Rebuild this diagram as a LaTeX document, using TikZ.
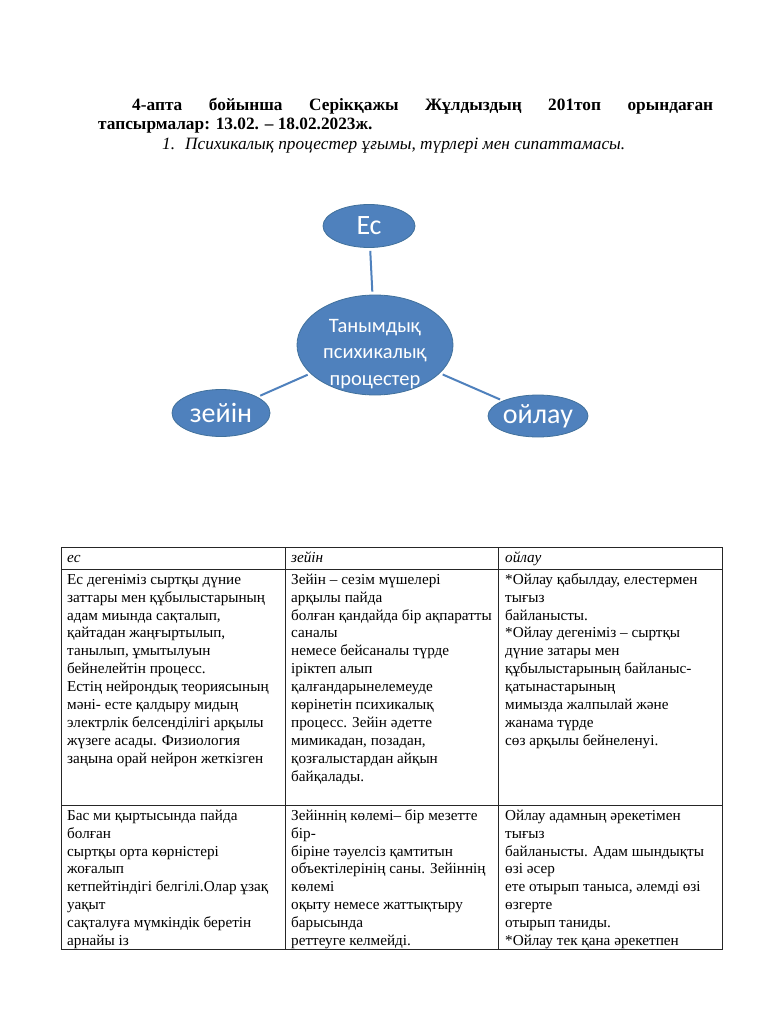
\documentclass[tikz,border=0pt]{standalone}
\usepackage{fontspec}
\setmainfont{Liberation Serif}
\newfontfamily\smartfont{Carlito}
\usetikzlibrary{shapes.geometric,positioning}
\definecolor{Smart}{HTML}{4F81BD}
\definecolor{SmartEdge}{HTML}{41719C}
\definecolor{Grid}{HTML}{262626}
\tikzset{
  bubble/.style={ellipse,fill=Smart,draw=SmartEdge,line width=0.8pt,text=white,inner sep=0pt,
    font=\smartfont\fontsize{28}{32}\selectfont},
  link/.style={Smart,line width=2pt,shorten <=3pt,shorten >=3pt},
  headline/.style={anchor=base west,inner sep=0pt,font=\fontsize{17.3}{20}\selectfont},
  cell/.style={anchor=north west,align=left,inner sep=0pt,font=\fontsize{15.2}{17.9}\selectfont},
  headcell/.style={cell,font=\fontsize{15.2}{17.9}\selectfont\itshape}
}
\begin{document}
\begin{tikzpicture}[x=1pt,y=-1pt]
        \useasboundingbox[fill=white] (0,0) rectangle (768,1024);
        % heading
        \node[headline,font=\fontsize{17.3}{20}\selectfont\bfseries] (title1) at (132,111)
          {\makebox[581pt][s]{4-апта бойынша Серікқажы Жұлдыздың 201топ орындаған}};
        \node[headline,font=\fontsize{17.3}{20}\selectfont\bfseries] (title2) at (98,130)
          {тапсырмалар: 13.02. – 18.02.2023ж.};
        \node[headline,font=\fontsize{17.3}{20}\selectfont\itshape] (num) at (162,150) {1.};
        \node[headline,font=\fontsize{17.3}{20}\selectfont\itshape] (subtitle) at (185,150)
          {Психикалық процестер ұғымы, түрлері мен сипаттамасы.};
        % smartart
        \node[bubble,minimum width=156pt,minimum height=100pt] (tan) at (375,345) {};
        \node[text=white,align=center,inner sep=0pt,font=\smartfont\fontsize{20.5}{26.7}\selectfont] (tantext) at (375,354)
          {Танымдық\\психикалық\\процестер};
        \node[bubble,minimum width=92pt,minimum height=43pt] (es) at (369,226) {Ес};
        \node[bubble,minimum width=98pt,minimum height=47pt] (zeyin) at (221,413) {зейін};
        \node[bubble,minimum width=100pt,minimum height=42pt] (oylau) at (538,416) {ойлау};
        \foreach \n in {es,zeyin,oylau}
          \draw[link] (tan) -- (\n);
        % table
        \draw[Grid,line width=0.8pt] (61,547) rectangle (722,949);
        \draw[Grid,line width=0.8pt] (61,569) -- (722,569);
        \draw[Grid,line width=0.8pt] (61,805) -- (722,805);
        \foreach \x in {285,498}
          \draw[Grid,line width=0.8pt] (\x,547) -- (\x,949);
        \node[headcell] (hes) at (67,549.5) {\strut ес};
        \node[headcell] (hzeyin) at (291,549.5) {\strut зейін};
        \node[headcell] (hoylau) at (505,549.5) {\strut ойлау};
        \node[cell] (es1) at (67,571.5) {\strut Ес дегеніміз сыртқы дүние\\заттары мен құбылыстарының\\адам миында сақталып,\\қайтадан жаңғыртылып,\\танылып, ұмытылуын\\бейнелейтін процесс.\\Естің нейрондық теориясының\\мәні- есте қалдыру мидың\\электрлік белсенділігі арқылы\\жүзеге асады. Физиология\\заңына орай нейрон жеткізген};
        \node[cell] (zeyin1) at (291,571.5) {\strut Зейін – сезім мүшелері\\арқылы пайда\\болған қандайда бір ақпаратты\\саналы\\немесе бейсаналы түрде\\іріктеп алып\\қалғандарынелемеуде\\көрінетін психикалық\\процесс. Зейін әдетте\\мимикадан, позадан,\\қозғалыстардан айқын\\байқалады.};
        \node[cell] (oylau1) at (505,571.5) {\strut *Ойлау қабылдау, елестермен\\тығыз\\байланысты.\\*Ойлау дегеніміз – сыртқы\\дүние затары мен\\құбылыстарының байланыс-\\қатынастарының\\мимызда жалпылай және\\жанама түрде\\сөз арқылы бейнеленуі.};
        \node[cell] (es2) at (67,807.5) {\strut Бас ми қыртысында пайда\\болған\\сыртқы орта көрністері\\жоғалып\\кетпейтіндігі белгілі.Олар ұзақ\\уақыт\\сақталуға мүмкіндік беретін\\арнайы із};
        \node[cell] (zeyin2) at (291,807.5) {\strut Зейіннің көлемі– бір мезетте\\бір-\\біріне тәуелсіз қамтитын\\объектілерінің саны. Зейіннің\\көлемі\\оқыту немесе жаттықтыру\\барысында\\реттеуге келмейді.};
        \node[cell] (oylau2) at (505,807.5) {\strut Ойлау адамның әрекетімен\\тығыз\\байланысты. Адам шындықты\\өзі әсер\\ете отырып таныса, әлемді өзі\\өзгерте\\отырып таниды.\\*Ойлау тек қана әрекетпен};
      \end{tikzpicture}
\end{document}
